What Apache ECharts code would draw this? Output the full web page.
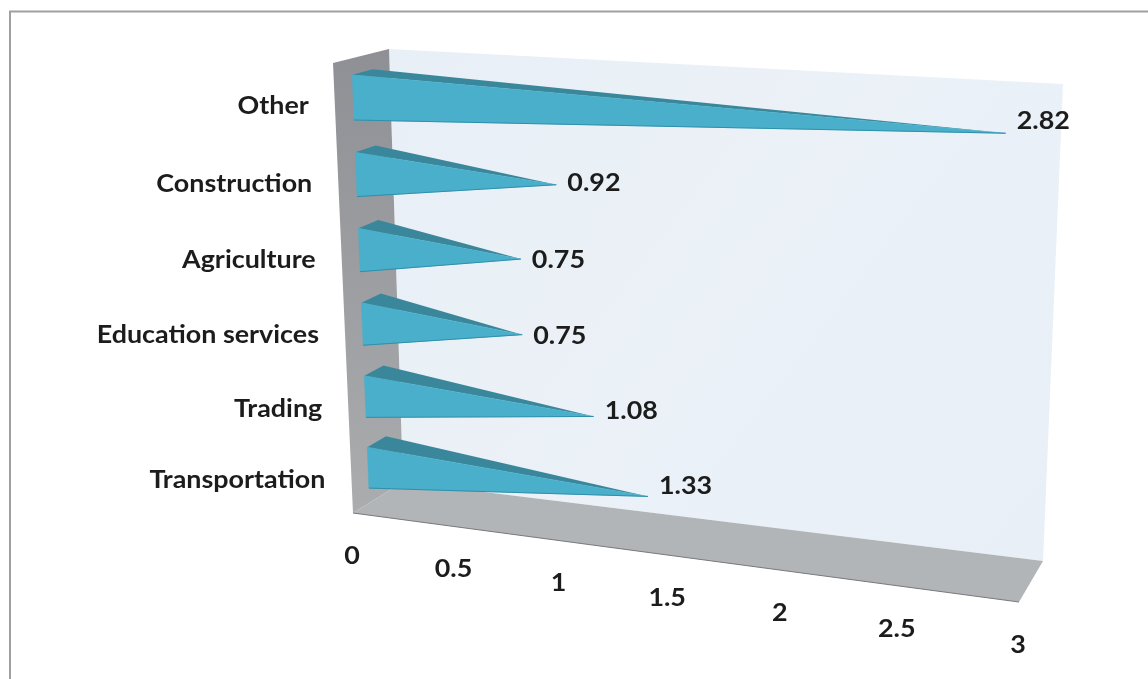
<!DOCTYPE html>
<html>
<head>
<meta charset="utf-8">
<style>html,body{margin:0;padding:0;background:#fff}#c{width:1148px;height:679px}</style>
<script src="https://cdn.jsdelivr.net/npm/echarts@6/dist/echarts.min.js"></script>
</head>
<body>
<div id="c"></div>
<script>
const categories = ['Transportation', 'Trading', 'Education services', 'Agriculture', 'Construction', 'Other'];
const values = [1.33, 1.08, 0.75, 0.75, 0.92, 2.82];
const xTicks = [0, 0.5, 1, 1.5, 2, 2.5, 3];
const xMax = 3;

// Perspective box: where the unit square's corners land on screen (BL, BR, TR, TL)
const FRONT = [[353, 513], [1019, 602], [1047, 104], [333, 63]];
const BACK = [[403, 482], [1043, 561], [1063, 84], [389, 49]];

function homography(q) {
  const [p0, p1, p2, p3] = q;
  const dx1 = p1[0] - p2[0], dx2 = p3[0] - p2[0], sx = p0[0] - p1[0] + p2[0] - p3[0];
  const dy1 = p1[1] - p2[1], dy2 = p3[1] - p2[1], sy = p0[1] - p1[1] + p2[1] - p3[1];
  const d = dx1 * dy2 - dx2 * dy1;
  const g = (sx * dy2 - dx2 * sy) / d, h = (dx1 * sy - sx * dy1) / d;
  const a = p1[0] - p0[0] + g * p1[0], b = p3[0] - p0[0] + h * p3[0], c = p0[0];
  const e = p1[1] - p0[1] + g * p1[1], f = p3[1] - p0[1] + h * p3[1], k = p0[1];
  return (u, v) => {
    const m = g * u + h * v + 1;
    return [(a * u + b * v + c) / m, (e * u + f * v + k) / m];
  };
}
const hFront = homography(FRONT), hBack = homography(BACK);
function project(u, v, w) {
  const f = hFront(u, v), b = hBack(u, v);
  return [f[0] + (b[0] - f[0]) * w, f[1] + (b[1] - f[1]) * w];
}
// value + category-band position -> unit box coordinates, via the chart's own axes
function unitMapper(api) {
  const o = api.coord([0, 0]), e = api.coord([xMax, categories.length - 1]);
  const band = api.size([0, 1])[1];
  const H = band * categories.length;
  const bottom = o[1] + band / 2;
  return (val, cat) => {
    const px = api.coord([val, 0])[0];
    const py = api.coord([0, 0])[1] - cat * band;   // cat in band units from band 0 centre
    return [(px - o[0]) / (e[0] - o[0]), (bottom - py) / H];
  };
}
const FONT = 'bold 24px Lato, "Open Sans", sans-serif';
const TEXT_STRETCH = 1.12;
const INK = '#1c1c1c';
const FRONT_W = 0.33, BACK_W = 0.70, TIP_W = 0.43, TIP_LIFT = 0.03, BAR_H = 0.58;

function wallsItem(params, api) {
  const unit = unitMapper(api);
  const lo = unit(0, -0.5), hi = unit(xMax, categories.length - 0.5);
  const pt = (u, v, w) => project(u, v, w);
  return {
    type: 'group',
    children: [
      { type: 'polygon', shape: { points: [pt(lo[0], lo[1], 1), pt(hi[0], lo[1], 1), pt(hi[0], hi[1], 1), pt(lo[0], hi[1], 1)] },
        style: { fill: new echarts.graphic.LinearGradient(0, 0, 1, 1, [{ offset: 0, color: '#e8eff6' }, { offset: 0.5, color: '#ebf1f7' }, { offset: 1, color: '#e8eff7' }]) } },
      { type: 'polygon', shape: { points: [pt(lo[0], lo[1], 0), pt(lo[0], lo[1], 1), pt(lo[0], hi[1], 1), pt(lo[0], hi[1], 0)] },
        style: { fill: new echarts.graphic.LinearGradient(0, 0, 0, 1, [{ offset: 0, color: '#8f9095' }, { offset: 1, color: '#aaacae' }]) } },
      { type: 'polygon', shape: { points: [pt(lo[0], lo[1], 0), pt(hi[0], lo[1], 0), pt(hi[0], lo[1], 1), pt(lo[0], lo[1], 1)] },
        style: { fill: '#b1b5b8' } },
      { type: 'line', shape: { x1: pt(lo[0], lo[1], 0)[0], y1: pt(lo[0], lo[1], 0)[1], x2: pt(hi[0], lo[1], 0)[0], y2: pt(hi[0], lo[1], 0)[1] },
        style: { stroke: '#77797b', lineWidth: 1 } }
    ]
  };
}

function barItem(params, api) {
  const val = api.value(0), cat = api.value(1);
  const unit = unitMapper(api);
  const base = unit(0, cat), tipU = unit(val, cat + TIP_LIFT);
  const top = unit(0, cat + BAR_H / 2), bot = unit(0, cat - BAR_H / 2);
  const ft = project(base[0], top[1], FRONT_W), fb = project(base[0], bot[1], FRONT_W);
  const bt = project(base[0], top[1], BACK_W);
  const tip = project(tipU[0], tipU[1], TIP_W);
  const dy = 1.5 - Math.min(13, Math.max(0, (val - 0.75) * 20));
  return {
    type: 'group',
    children: [
      { type: 'polygon', shape: { points: [ft, bt, tip] }, style: { fill: '#3a879c' } },
      { type: 'polygon', shape: { points: [ft, fb, tip] }, style: { fill: '#49afca', stroke: '#49afca', lineWidth: 0.5 } },
      { type: 'line', shape: { x1: fb[0], y1: fb[1], x2: tip[0], y2: tip[1] }, style: { stroke: '#2f8fab', lineWidth: 1 } },
      { type: 'text', x: tip[0] + 11, y: tip[1] + dy, scaleX: TEXT_STRETCH,
        style: { text: String(val), font: FONT, fill: INK, textAlign: 'left', textVerticalAlign: 'middle' } }
    ]
  };
}

function catLabelItem(params, api) {
  const unit = unitMapper(api);
  const c = unit(0, api.value(0));
  const p = project(c[0], c[1], 0);
  return { type: 'text', x: p[0] - 26, y: p[1] + 3, scaleX: TEXT_STRETCH,
    style: { text: categories[params.dataIndex], font: FONT, fill: INK, textAlign: 'right', textVerticalAlign: 'middle' } };
}

function xTickItem(params, api) {
  const unit = unitMapper(api);
  const c = unit(api.value(0), -0.5);
  const p = project(c[0], c[1], 0);
  return { type: 'text', x: p[0] - 1, y: p[1] + 43, scaleX: TEXT_STRETCH,
    style: { text: String(xTicks[params.dataIndex]), font: FONT, fill: INK, textAlign: 'center', textVerticalAlign: 'middle' } };
}

const chart = echarts.init(document.getElementById('c'), null, { renderer: 'canvas', width: 1148, height: 679 });
chart.setOption({
  animation: false,
  backgroundColor: '#ffffff',
  graphic: [{ type: 'rect', x: 10, y: 11.5, shape: { x: 0, y: 0, width: 1300, height: 800 }, style: { fill: 'none', stroke: '#a0a0a0', lineWidth: 2 }, silent: true }],
  grid: { left: 100, right: 100, top: 100, bottom: 100 },
  xAxis: { type: 'value', min: 0, max: xMax, interval: 0.5, show: false },
  yAxis: { type: 'category', data: categories, show: false },
  series: [
    { type: 'custom', renderItem: wallsItem, data: [[0]], silent: true, clip: false, z: 1 },
    { type: 'custom', renderItem: barItem, data: values.map((v, i) => [v, i]), silent: true, clip: false, z: 2, encode: { x: 0, y: 1 } },
    { type: 'custom', renderItem: catLabelItem, data: categories.map((c, i) => [i]), silent: true, clip: false, z: 3 },
    { type: 'custom', renderItem: xTickItem, data: xTicks.map(t => [t]), silent: true, clip: false, z: 3 }
  ]
});
</script>
</body>
</html>
